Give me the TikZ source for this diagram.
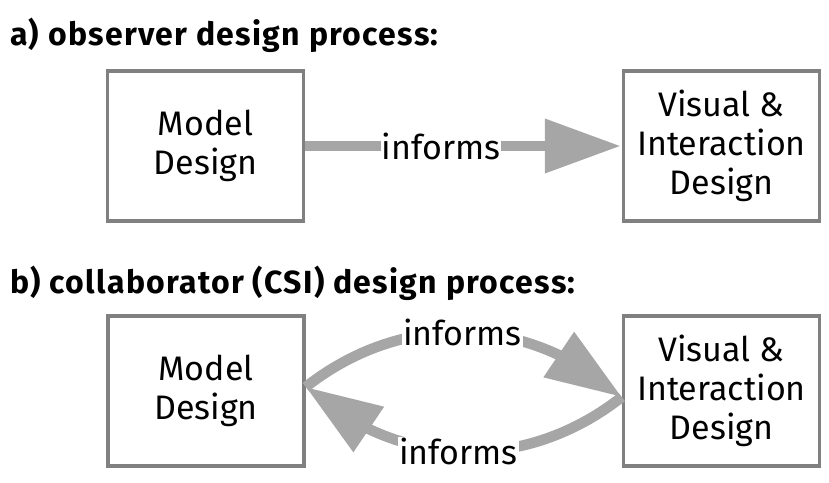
\documentclass[tikz,border=0pt]{standalone}
\usepackage{fontspec}
\setmainfont{Fira Sans}
\newfontfamily\headfont{Fira Sans}[LetterSpace=4]
\usetikzlibrary{arrows.meta,bending}
\definecolor{boxgray}{HTML}{808080}
\definecolor{arrgray}{HTML}{A6A6A6}
\begin{document}
\begin{tikzpicture}[x=1pt,y=-1pt,
  box/.style={draw=boxgray,line width=3.5pt,minimum width=196pt,minimum height=150pt,
    align=center,font=\fontsize{34}{39}\selectfont,inner sep=0pt},
  head/.style={anchor=base west,font=\headfont\fontsize{32}{36}\selectfont\bfseries,inner sep=0pt},
  lbl/.style={fill=white,font=\fontsize{34}{40}\selectfont,inner sep=1pt},
  bigarrow/.style={draw=arrgray,line width=10.5pt,-{Triangle[length=76pt,width=52pt,flex]}}]
\useasboundingbox (0,0) rectangle (829,482);
\node[head] (ha) at (10,45) {a) observer design process:};
\node[head] (hb) at (10,293) {b) collaborator (CSI) design process:};
\node[box] (a1) at (205.5,146) {Model\\Design};
\node[box] (a2) at (721.5,146) {Visual \&\\Interaction\\Design};
\node[box] (b1) at (206,391) {Model\\Design};
\node[box] (b2) at (721.5,391) {Visual \&\\Interaction\\Design};
\draw[bigarrow] (a1.east) -- node[lbl,pos=0.43] {informs} ([xshift=-1pt]a2.west);
\coordinate (bl) at ([yshift=4pt]b1.east);
\coordinate (br) at ([yshift=-6pt]b2.west);
\draw[bigarrow] (bl) to[bend left=40] node[lbl,pos=0.49] {informs} (br);
\draw[bigarrow] (br) to[bend left=40] node[lbl,pos=0.51] {informs} (bl);
\end{tikzpicture}
\end{document}
